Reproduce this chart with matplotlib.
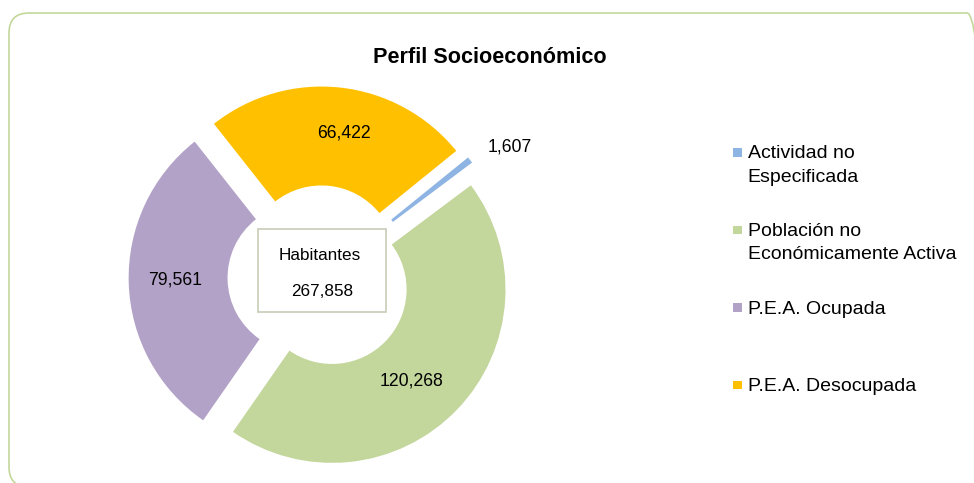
import matplotlib
matplotlib.use("Agg")
import matplotlib.pyplot as plt
from matplotlib.patches import FancyBboxPatch, Rectangle
import numpy as np

# ---- data ----
categories = ["Actividad no\nEspecificada",
              "Población no\nEconómicamente Activa",
              "P.E.A. Ocupada",
              "P.E.A. Desocupada"]
values = [1607, 120268, 79561, 66422]
colors = ["#8EB4E3", "#C3D69B", "#B3A2C7", "#FFC000"]
title = "Perfil Socioeconómico"
center_title = "Habitantes"

# ---- style / layout ----
FONT = "Liberation Sans"
W, H = 974, 483
DPI = 100
label_dist = [1.23, 0.70, 0.73, 0.745]   # radial position of value labels (in radius units)
label_shift = [3.8, 5.3, 0.7, 3.6]       # clockwise angular shift of labels (deg)

fig = plt.figure(figsize=(W / DPI, H / DPI), dpi=DPI)
fig.patch.set_facecolor("white")

def fx(px):
    return px / W

def fy(py):
    return 1 - py / H

# rounded outer border (display pixel coordinates)
border = FancyBboxPatch((9, H - 487), 978, 474,
                        boxstyle="round,pad=0,rounding_size=20",
                        transform=None, facecolor="none",
                        edgecolor="#C4D79B", linewidth=1.2, zorder=0)
fig.patches.append(border)

# donut axes
cx, cy, R = 319.5, 277.3, 173.5
half = 1.35
ax = fig.add_axes([fx(cx - half * R), (H - cy - half * R) / H,
                   2 * half * R / W, 2 * half * R / H])
wedges, _ = ax.pie(values, colors=colors, startangle=39, counterclock=False,
                   explode=[0.1] * len(values), radius=1.0,
                   wedgeprops=dict(width=0.57, linewidth=0))
ax.set_xlim(-half, half)
ax.set_ylim(-half, half)
ax.set_aspect("auto")
ax.axis("off")

for w, v, d, s in zip(wedges, values, label_dist, label_shift):
    phi = np.deg2rad((w.theta1 + w.theta2) / 2 - s)
    x0, y0 = w.center
    ax.text(x0 + d * np.cos(phi), y0 + d * np.sin(phi), f"{v:,}",
            ha="center", va="center", fontsize=12.7, family=FONT, color="black")

# center box
total = sum(values)
box = Rectangle((fx(258.3), fy(311.7)), fx(385.7) - fx(258.3), fy(229) - fy(311.7),
                transform=fig.transFigure, facecolor="white",
                edgecolor="#C6CDB6", linewidth=1.2, zorder=5)
fig.patches.append(box)
fig.text(fx(320), fy(260), center_title, ha="center", va="baseline",
         fontsize=12.3, family=FONT, zorder=6)
fig.text(fx(322), fy(296), f"{total:,}", ha="center", va="baseline",
         fontsize=12.3, family=FONT, zorder=6)

# title
fig.text(fx(489.7), fy(62.7), title, ha="center", va="baseline",
         fontsize=15.6, fontweight="bold", family=FONT)

# legend (manual, Excel-style: marker on first line)
base0, step, line_h = 158.3, 77.6, 23.4
for i, (lab, col) in enumerate(zip(categories, colors)):
    b = base0 + i * step
    mk = Rectangle((fx(733.3), fy(b - 1.8)), fx(9), 8.5 / H,
                   transform=fig.transFigure, facecolor=col, edgecolor="none")
    fig.patches.append(mk)
    for j, line in enumerate(lab.split("\n")):
        fig.text(fx(747.7), fy(b + j * line_h), line, ha="left", va="baseline",
                 fontsize=14, family=FONT)

fig.savefig("out.png", dpi=DPI)
